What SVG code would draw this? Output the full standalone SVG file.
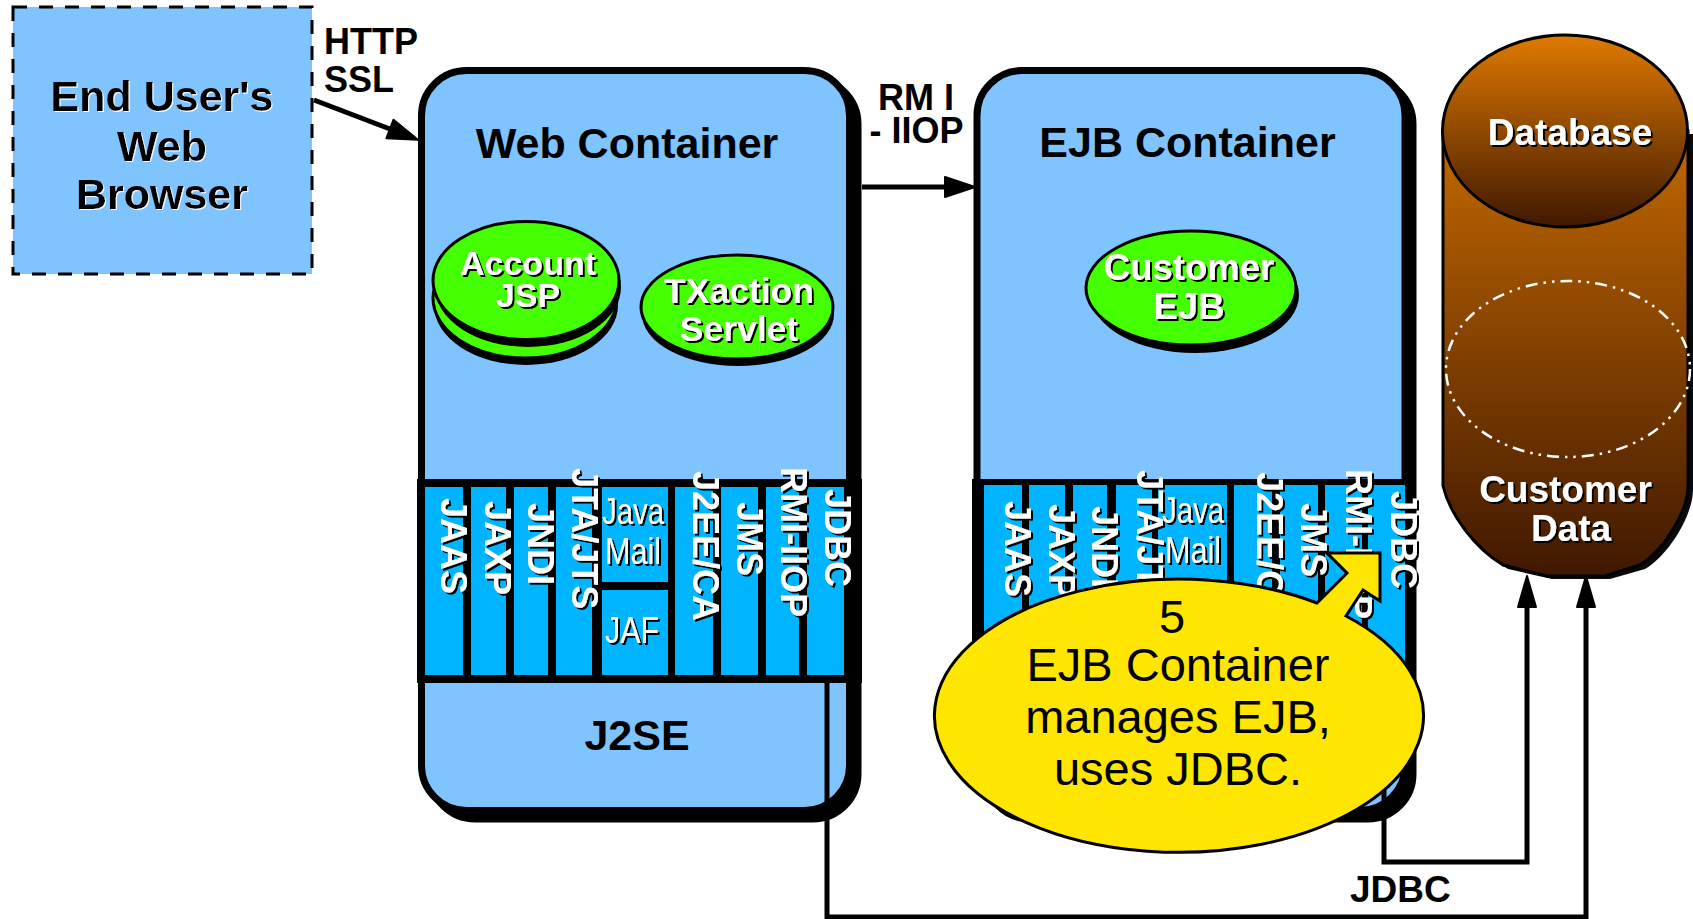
<svg xmlns="http://www.w3.org/2000/svg" width="1693" height="919" viewBox="0 0 1693 919">
<style>
text{font-family:"Liberation Sans",Arial,sans-serif}
.b{font-weight:bold;fill:#000}
.m{text-anchor:middle}
.lb{fill:#80c4ff}
.cell{fill:#00b4ff}
.band{fill:#000}
.box{fill:#80c4ff;stroke:#000;stroke-width:7}
.sh{fill:#000;stroke:#000;stroke-width:7}
.gr{fill:#44ff00;stroke:#000;stroke-width:3}
.blk{fill:#000}
.w{font-weight:bold;fill:#fff}
.r{font-weight:bold;fill:#fff;font-size:36px}
.n{fill:#fff;font-size:36px}
.con{fill:none;stroke:#000;stroke-width:5;stroke-linejoin:miter}
.ws{filter:url(#bs)}
.bsw{filter:url(#wsh)}
</style>
<defs>
<filter id="bs" x="-10%" y="-10%" width="120%" height="120%"><feDropShadow dx="2" dy="2" stdDeviation="0" flood-color="#000"/></filter>
<filter id="wsh" x="-10%" y="-10%" width="120%" height="120%"><feDropShadow dx="1" dy="1" stdDeviation="0" flood-color="#fff"/></filter>
<marker id="ah" markerUnits="userSpaceOnUse" markerWidth="36" markerHeight="26" viewBox="0 0 36 26" refX="16" refY="13" orient="auto"><path d="M2 3 L32 13 L2 23Z" fill="#000" stroke="#000" stroke-width="2" stroke-linejoin="round"/></marker>
<marker id="au" markerUnits="userSpaceOnUse" markerWidth="40" markerHeight="26" viewBox="0 0 40 26" refX="16" refY="13" orient="auto"><path d="M2 4 L33 13 L2 22Z" fill="#000" stroke="#000" stroke-width="2" stroke-linejoin="round"/></marker>
<linearGradient id="cb" gradientUnits="userSpaceOnUse" x1="0" y1="35" x2="0" y2="575"><stop offset="0" stop-color="#e07a00"/><stop offset="1" stop-color="#401800"/></linearGradient>
<linearGradient id="ct" gradientUnits="userSpaceOnUse" x1="0" y1="35" x2="0" y2="227"><stop offset="0" stop-color="#e07a00"/><stop offset="1" stop-color="#401800"/></linearGradient>
</defs>
<rect width="1693" height="919" fill="#fff"/>

<g id="browser">
<rect x="13" y="7" width="299" height="267" fill="#80c4ff" stroke="#000" stroke-width="3" stroke-dasharray="14 12"/>
<g class="bsw">
<text class="b m" font-size="43" x="162" y="111">End User's</text>
<text class="b m" font-size="43" x="162" y="161">Web</text>
<text class="b m" font-size="43" x="162" y="209">Browser</text>
</g>
</g>

<g id="web-container">
<rect class="sh" x="430" y="79" width="428" height="740" rx="45"/>
<rect class="box" x="421.500" y="70.500" width="428" height="740" rx="45"/>
<text class="b m" font-size="43" x="627" y="158">Web Container</text>
<g id="web-strip">
<rect class="band" x="417" y="479" width="445" height="204"/>
<rect class="cell" x="425" y="487" width="38" height="188"/>
<rect class="cell" x="471" y="487" width="35" height="188"/>
<rect class="cell" x="514" y="487" width="34" height="188"/>
<rect class="cell" x="556" y="487" width="36" height="188"/>
<rect class="cell" x="602" y="487" width="66" height="95"/>
<rect class="cell" x="602" y="590" width="66" height="85"/>
<rect class="cell" x="675" y="487" width="38" height="188"/>
<rect class="cell" x="721" y="487" width="37" height="188"/>
<rect class="cell" x="766" y="487" width="33" height="188"/>
<rect class="cell" x="807" y="487" width="37" height="188"/>
<g class="ws">
<text class="r" transform="translate(441 498) rotate(90)">JAAS</text>
<text class="r" transform="translate(485 501) rotate(90)">JAXP</text>
<text class="r" transform="translate(528 503) rotate(90)">JNDI</text>
<text class="r" transform="translate(572 468) rotate(90)">JTA/JTS</text>
<text class="n m" x="633" y="524" textLength="62" lengthAdjust="spacingAndGlyphs">Java</text>
<text class="n m" x="633" y="564" textLength="56" lengthAdjust="spacingAndGlyphs">Mail</text>
<text class="n m" x="632" y="643" textLength="54" lengthAdjust="spacingAndGlyphs">JAF</text>
<text class="r" transform="translate(693 471) rotate(90)">J2EE/CA</text>
<text class="r" transform="translate(737 502) rotate(90)">JMS</text>
<text class="r" transform="translate(781 467) rotate(90)">RMI-IIOP</text>
<text class="r" transform="translate(825 489) rotate(90)">JDBC</text>
</g>
</g>
<text class="b m" font-size="43" x="637" y="750">J2SE</text>
</g>

<g id="account-jsp">
<ellipse class="blk" cx="526" cy="305" rx="92" ry="60"/>
<ellipse class="gr" cx="525" cy="298" rx="92" ry="60"/>
<ellipse class="blk" cx="528" cy="287" rx="93" ry="60"/>
<ellipse class="gr" cx="526" cy="280.500" rx="93" ry="59"/>
<g class="ws">
<text class="w m" font-size="34" x="528" y="275">Account</text>
<text class="w m" font-size="34" x="528" y="307">JSP</text>
</g>
</g>

<g id="txaction-servlet">
<ellipse class="blk" cx="738" cy="314" rx="96" ry="52"/>
<ellipse class="gr" cx="737" cy="307" rx="96" ry="52"/>
<g class="ws">
<text class="w m" font-size="35.500" x="739" y="303">TXaction</text>
<text class="w m" font-size="35.500" x="739" y="341">Servlet</text>
</g>
</g>

<g id="ejb-container">
<rect class="sh" x="985" y="79" width="428" height="740" rx="45"/>
<rect class="box" x="977" y="70.500" width="428" height="740" rx="45"/>
<text class="b m" font-size="43" x="1187.500" y="157">EJB Container</text>
<g id="ejb-strip">
<rect class="band" x="972" y="479" width="444" height="204"/>
<rect class="cell" x="984" y="485" width="38" height="190"/>
<rect class="cell" x="1029" y="485" width="36" height="190"/>
<rect class="cell" x="1073" y="485" width="34" height="190"/>
<rect class="cell" x="1116" y="485" width="36" height="190"/>
<rect class="cell" x="1158" y="485" width="69" height="190"/>
<rect class="cell" x="1234" y="485" width="38" height="190"/>
<rect class="cell" x="1280" y="485" width="38" height="190"/>
<rect class="cell" x="1325" y="485" width="37" height="190"/>
<rect class="cell" x="1368" y="485" width="37" height="190"/>
<g class="ws">
<text class="r" transform="translate(1005 501) rotate(90)">JAAS</text>
<text class="r" transform="translate(1049 504) rotate(90)">JAXP</text>
<text class="r" transform="translate(1092 506) rotate(90)">JNDI</text>
<text class="r" transform="translate(1137 470) rotate(90)">JTA/JTS</text>
<text class="n m" x="1193" y="523" textLength="62" lengthAdjust="spacingAndGlyphs">Java</text>
<text class="n m" x="1193" y="563" textLength="56" lengthAdjust="spacingAndGlyphs">Mail</text>
<text class="r" transform="translate(1257 472) rotate(90)">J2EE/CA</text>
<text class="r" transform="translate(1301 503) rotate(90)">JMS</text>
<text class="r" transform="translate(1346 469) rotate(90)">RMI-IIOP</text>
<text class="r" transform="translate(1391 491) rotate(90)">JDBC</text>
</g>
</g>
</g>

<g id="customer-ejb">
<ellipse class="blk" cx="1195" cy="295" rx="104" ry="58"/>
<ellipse class="gr" cx="1191" cy="288" rx="105" ry="57"/>
<g class="ws">
<text class="w m" font-size="36.500" x="1189" y="280">Customer</text>
<text class="w m" font-size="36.500" x="1189" y="319">EJB</text>
</g>
</g>

<g id="database">
<path d="M1447 134 L1447 490 C1455 519 1480 552 1508 569 L1552 579 L1610 579 L1645 569 C1670 554 1693 514 1693 490 L1693 134Z" fill="#0a0a0a"/>
<path d="M1443 131 L1443 486 C1450 515 1475 548 1503 565 L1547 576 L1605 576 L1640 565 C1665 550 1688 510 1688 486 L1688 131Z" fill="url(#cb)" stroke="#000" stroke-width="3"/>
<ellipse cx="1565" cy="131" rx="122.500" ry="96" fill="url(#ct)" stroke="#000" stroke-width="3"/>
<ellipse cx="1568" cy="369" rx="122" ry="88" fill="none" stroke="#fff" stroke-width="2.500" stroke-dasharray="12 6 2.500 6 2.500 6"/>
<g class="ws">
<text class="w m" font-size="37" x="1570" y="145">Database</text>
<text class="w m" font-size="37" x="1565.500" y="502">Customer</text>
<text class="w m" font-size="37" x="1571" y="541">Data</text>
</g>
</g>

<g id="connectors">
<path class="con" d="M314 100 L403 134" marker-end="url(#ah)"/>
<path class="con" d="M862 187 L959 187" marker-end="url(#ah)"/>
<path class="con" d="M827 683 L827 917 L1586 917 L1586 593" marker-end="url(#au)"/>
<path class="con" d="M1384 683 L1384 862 L1527 862 L1527 593" marker-end="url(#au)"/>
</g>

<g id="labels">
<text class="b" font-size="36" x="324" y="54">HTTP</text>
<text class="b" font-size="36" x="324" y="92">SSL</text>
<text class="b m" font-size="36" x="916" y="110">RM I</text>
<text class="b m" font-size="36" x="916.500" y="143">- IIOP</text>
<text class="b" font-size="37" x="1350" y="902">JDBC</text>
</g>

<g id="callout">
<path d="M1317 603 L1347 573 L1327 553 L1380 553 L1380 601 L1363 590 L1346 616 A244.500 136.600 0 1 1 1317 603Z" fill="#ffe600" stroke="#000" stroke-width="3"/>
<g font-size="47" fill="#000">
<text class="m" x="1172" y="633">5</text>
<text class="m" x="1178" y="681">EJB Container</text>
<text class="m" x="1178" y="733">manages EJB,</text>
<text class="m" x="1178" y="785">uses JDBC.</text>
</g>
</g>
</svg>
